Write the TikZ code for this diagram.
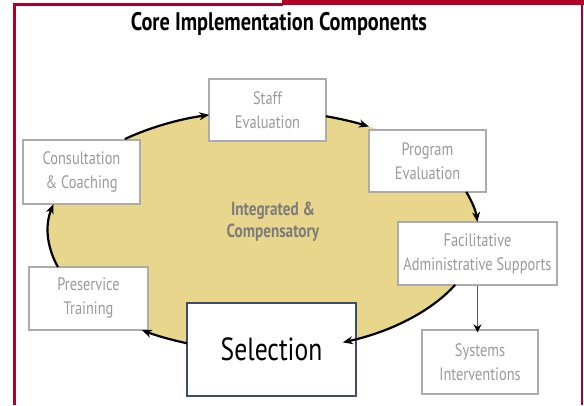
\documentclass[tikz,border=0pt]{standalone}
\usepackage{fontspec}
\setmainfont{PT Sans}[FakeStretch=0.8]
\usetikzlibrary{arrows.meta,calc}
\definecolor{framered}{RGB}{176,0,40}
\definecolor{ellfill}{RGB}{232,214,140}
\definecolor{boxgray}{RGB}{172,172,172}
\definecolor{txtgray}{RGB}{155,155,155}
\definecolor{midgray}{RGB}{124,124,124}
\definecolor{selblue}{RGB}{62,76,110}
\tikzset{
  comp/.style={draw=boxgray, line width=1.3pt, fill=white, inner sep=0pt, align=center,
    text=txtgray, font=\fontsize{18}{24}\selectfont},
  selbox/.style={draw=selblue, line width=1.5pt, fill=white, inner sep=0pt, align=center,
    text=black, font=\fontsize{32}{34}\selectfont},
  cyc/.style={line width=2.2pt, -{Stealth[length=10pt,width=8pt]}},
  down/.style={draw=black!68, line width=1.4pt, -{Stealth[length=8pt,width=8pt,color=black]}}
}
\begin{document}
\begin{tikzpicture}[x=1pt,y=-1pt]
\useasboundingbox (0,0) rectangle (584,405);
% frame
\fill[framered] (282,0) rectangle (584,5.3);
\fill[framered] (580.6,0) rectangle (583.4,405);
\draw[framered, line width=2.8pt] (14.8,405) -- (14.8,4.2) -- (283,4.2);
% title
\node[font=\bfseries\fontsize{25.4}{28}\selectfont] (title) at (279,24) {Core Implementation Components};
% ellipse
\coordinate (e) at (263,231);
\fill[ellfill] (e) ellipse [x radius=215, y radius=120];
\node[font=\bfseries\fontsize{19}{22}\selectfont, text=midgray, align=center] (integ) at (273,222) {Integrated \&\\Compensatory};
% boxes
\node[comp, minimum width=117, minimum height=62] (staff) at (267.5,110) {Staff\\Evaluation};
\node[comp, minimum width=117, minimum height=62] (prog) at (427.5,161) {Program\\Evaluation};
\node[comp, minimum width=159, minimum height=63] (facil) at (477.5,253.5) {Facilitative\\Administrative Supports};
\node[comp, minimum width=116, minimum height=64] (sys) at (480,362) {Systems\\Interventions};
\node[comp, minimum width=119, minimum height=63] (pre) at (88.5,298.5) {Preservice\\Training};
\node[comp, minimum width=117, minimum height=64] (cons) at (81.5,172) {Consultation\\\& Coaching};
\node[selbox, minimum width=169, minimum height=93] (sel) at (271.5,349.5) {Selection};
% cycle arcs
\coordinate (c1) at ($(e)+(230:215 and 120)$);
\coordinate (c2) at ($(e)+(287:215 and 120)$);
\coordinate (c3) at ($(e)+(341:215 and 120)$);
\coordinate (c4) at ($(e)+(26.7:215 and 120)$);
\coordinate (c5) at ($(e)+(110.7:215 and 120)$);
\coordinate (c6) at ($(e)+(162.5:215 and 120)$);
\draw[cyc] (c1) arc[start angle=230, end angle=255.5, x radius=215, y radius=120];
\draw[cyc] (c2) arc[start angle=287, end angle=299.5, x radius=215, y radius=120];
\draw[cyc] (c3) arc[start angle=341, end angle=355.7, x radius=215, y radius=120];
\draw[cyc] (c4) arc[start angle=26.7, end angle=68.2, x radius=215, y radius=120];
\draw[cyc] (c5) arc[start angle=110.7, end angle=124.3, x radius=215, y radius=120];
\draw[cyc] (c6) arc[start angle=162.5, end angle=193, x radius=215, y radius=120];
% straight arrow
\draw[down] (facil.south) -- ($(facil.south |- sys.north)+(0,3)$);
\end{tikzpicture}
\end{document}
